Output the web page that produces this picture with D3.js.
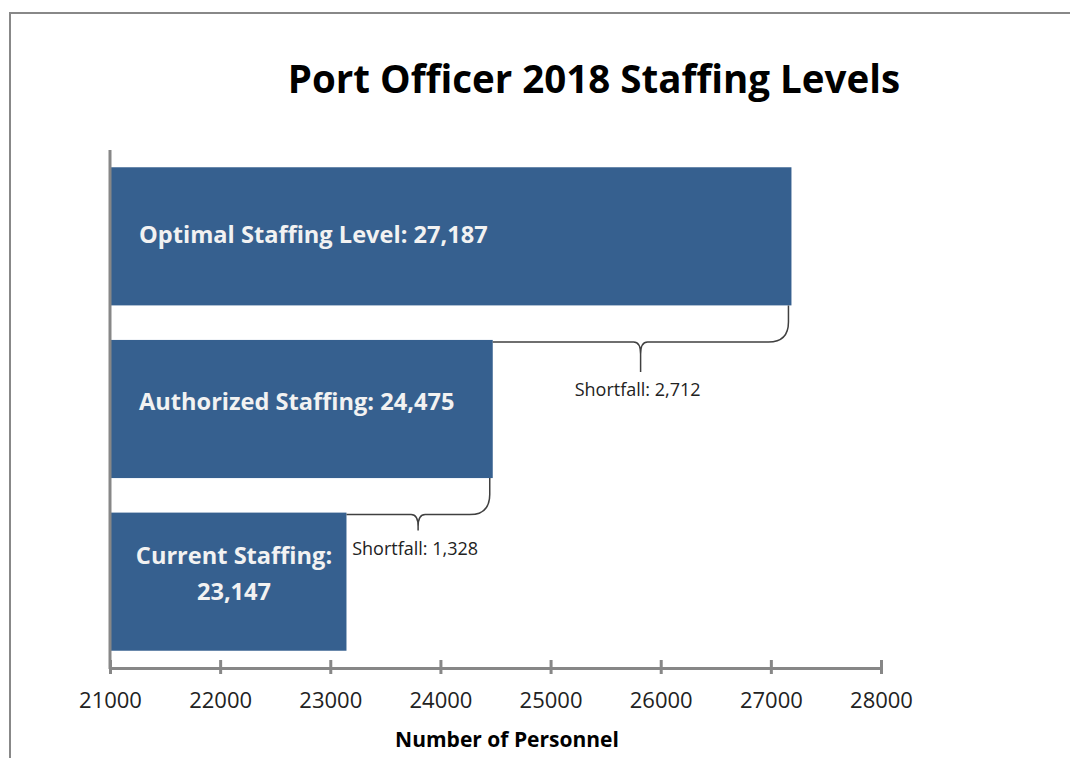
<!DOCTYPE html>
<html>
<head>
<meta charset="utf-8">
<script src="https://cdnjs.cloudflare.com/ajax/libs/d3/7.8.5/d3.min.js"></script>
<style>
	body { margin: 0; background: #fff; }
	text { font-family: "Open Sans", "Noto Sans", sans-serif; }
</style>
</head>
<body>
<script>
// chart values
var categories = ["Optimal Staffing Level", "Authorized Staffing", "Current Staffing"];
var values = [27187, 24475, 23147];
var barLabels = [["Optimal Staffing Level: 27,187"], ["Authorized Staffing: 24,475"], ["Current Staffing:", "23,147"]];
var tickValues = [21000, 22000, 23000, 24000, 25000, 26000, 27000, 28000];
var title = "Port Officer 2018 Staffing Levels";
var axisTitle = "Number of Personnel";

var width = 1070,
	height = 758,
	barColor = "#36608f",
	axisColor = "#878787",
	braceColor = "#404040";

var svg = d3.select("body")
	.append("svg")
	.attr("width", width)
	.attr("height", height);

// outer frame (only left and top are visible)
svg.append("path")
	.attr("d", "M10," + height + "V13H" + width)
	.attr("fill", "none")
	.attr("stroke", "#888")
	.attr("stroke-width", 2);

var x = d3.scaleLinear().domain([21000, 28000]).range([110, 881]);
var y = d3.scaleBand().domain(categories).range([150, 668]).paddingInner(0.2).paddingOuter(0.1);

svg.append("text")
	.attr("x", 594)
	.attr("y", 93)
	.attr("text-anchor", "middle")
	.attr("font-size", 38.5)
	.attr("font-weight", "bold")
	.attr("fill", "#000")
	.text(title);

// bars
svg.selectAll(".bar")
	.data(values)
	.enter().append("rect")
	.attr("class", "bar")
	.attr("x", x(21000))
	.attr("y", function(d, i) { return y(categories[i]); })
	.attr("width", function(d) { return x(d) - x(21000); })
	.attr("height", y.bandwidth())
	.attr("fill", barColor);

// labels inside the bars (text boxes sit a bit differently in each bar)
var labelShift = [7, 1, 0];
barLabels.forEach(function(lines, i) {
	var cy = y(categories[i]) + y.bandwidth() / 2;
	var multi = lines.length > 1;
	var t = svg.append("text")
		.attr("font-size", 23.6)
		.attr("font-weight", "bold")
		.attr("fill", "#f2f2f2")
		.attr("text-anchor", multi ? "middle" : "start");
	lines.forEach(function(line, j) {
		t.append("tspan")
			.attr("x", multi ? 234 : 139)
			.attr("y", cy + labelShift[i] + (j - (lines.length - 1) / 2) * 36)
			.text(line);
	});
});

// shortfall braces between consecutive bars
function brace(x0, x1, yLine, yTop, depth) {
	var r = 20, mid = (x0 + x1) / 2;
	return "M" + x0 + "," + yLine +
		"H" + (mid - 7) +
		"Q" + mid + "," + yLine + " " + mid + "," + (yLine + 12) +
		"V" + (yLine + depth) +
		"M" + mid + "," + (yLine + 12) +
		"Q" + mid + "," + yLine + " " + (mid + 7) + "," + yLine +
		"H" + (x1 - r) +
		"Q" + x1 + "," + yLine + " " + x1 + "," + (yLine - r) +
		"V" + yTop;
}

for (var i = 1; i < values.length; i++) {
	var x0 = x(values[i]),
		x1 = x(values[i - 1]) - 3,
		yLine = y(categories[i]) + 2,
		yTop = y(categories[i - 1]) + y.bandwidth(),
		depth = Math.min(30, (x1 - x0) / 9);
	svg.append("path")
		.attr("d", brace(x0, x1, yLine, yTop, depth))
		.attr("fill", "none")
		.attr("stroke", braceColor)
		.attr("stroke-width", 1.5);
	svg.append("text")
		.attr("x", (x0 + x1) / 2 - 3)
		.attr("y", yLine + depth + 24)
		.attr("text-anchor", "middle")
		.attr("font-size", 18)
		.attr("fill", "#222")
		.text("Shortfall: " + d3.format(",")(values[i - 1] - values[i]));
}

// axes
var axisG = svg.append("g")
	.attr("transform", "translate(0,668)")
	.call(d3.axisBottom(x).tickValues(tickValues).tickSize(0).tickPadding(24).tickFormat(d3.format("d")));
axisG.select(".domain").attr("stroke", axisColor).attr("stroke-width", 3);
axisG.selectAll(".tick line")
	.attr("y1", -8).attr("y2", 6)
	.attr("stroke", axisColor).attr("stroke-width", 3);
axisG.selectAll(".tick text")
	.attr("font-size", 22)
	.attr("font-family", "Open Sans")
	.attr("fill", "#222");

svg.append("line")
	.attr("x1", 110).attr("x2", 110)
	.attr("y1", 150).attr("y2", 669)
	.attr("stroke", axisColor)
	.attr("stroke-width", 3);

svg.append("text")
	.attr("x", 507)
	.attr("y", 747)
	.attr("text-anchor", "middle")
	.attr("font-size", 21)
	.attr("font-weight", "bold")
	.attr("fill", "#000")
	.text(axisTitle);
</script>
</body>
</html>
